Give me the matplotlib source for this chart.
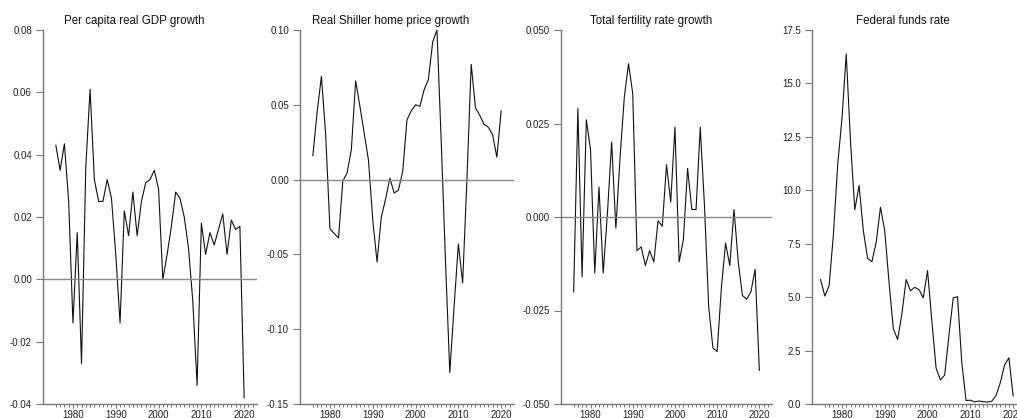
import numpy as np
import matplotlib.pyplot as plt
from matplotlib.ticker import MultipleLocator, FormatStrFormatter

plt.rcParams.update({
    "font.family": ["Liberation Sans", "DejaVu Sans"],
    "axes.edgecolor": "#777777",
    "xtick.color": "#777777", "ytick.color": "#777777",
    "xtick.labelcolor": "#222222", "ytick.labelcolor": "#222222",
})

years = list(range(1976, 2021))
years_ffr = list(range(1975, 2021))

gdp_growth = [0.043, 0.035, 0.0435, 0.025, -0.014, 0.015, -0.027, 0.036, 0.061, 0.032,
              0.025, 0.025, 0.032, 0.026, 0.008, -0.014, 0.022, 0.014, 0.028, 0.014,
              0.025, 0.031, 0.032, 0.035, 0.029, 0.000, 0.008, 0.017, 0.028, 0.026,
              0.020, 0.010, -0.007, -0.034, 0.018, 0.008, 0.015, 0.011, 0.016, 0.021,
              0.008, 0.019, 0.016, 0.017, -0.038]

home_price_growth = [0.016, 0.045, 0.069, 0.030, -0.033, -0.036, -0.039, -0.001, 0.0045, 0.020,
                     0.066, 0.049, 0.031, 0.013, -0.027, -0.055, -0.025, -0.013, 0.001, -0.009,
                     -0.007, 0.0056, 0.040, 0.046, 0.050, 0.049, 0.060, 0.067, 0.092, 0.100,
                     0.025, -0.055, -0.129, -0.085, -0.043, -0.069, 0.000, 0.077, 0.048, 0.043,
                     0.037, 0.035, 0.030, 0.015, 0.046]

tfr_growth = [-0.020, 0.029, -0.016, 0.026, 0.018, -0.015, 0.008, -0.015, 0.001, 0.020,
              -0.003, 0.016, 0.032, 0.041, 0.033, -0.009, -0.008, -0.013, -0.009, -0.012,
              -0.001, -0.0025, 0.014, 0.004, 0.024, -0.012, -0.006, 0.013, 0.002, 0.002,
              0.024, 0.003, -0.024, -0.035, -0.036, -0.019, -0.007, -0.013, 0.002, -0.012,
              -0.021, -0.022, -0.020, -0.014, -0.041]

fed_funds = [5.82, 5.05, 5.54, 7.93, 11.19, 13.36, 16.38, 12.26, 9.09, 10.23,
             8.10, 6.81, 6.66, 7.57, 9.21, 8.10, 5.69, 3.52, 3.02, 4.21,
             5.83, 5.30, 5.46, 5.35, 4.97, 6.24, 3.88, 1.67, 1.13, 1.35,
             3.22, 4.97, 5.02, 1.92, 0.16, 0.18, 0.10, 0.14, 0.11, 0.09,
             0.13, 0.40, 1.00, 1.83, 2.16, 0.38]

panels = [
    ("Per capita real GDP growth", years, gdp_growth, (-0.04, 0.08), 0.02, "%.2f", True),
    ("Real Shiller home price growth", years, home_price_growth, (-0.15, 0.10), 0.05, "%.2f", True),
    ("Total fertility rate growth", years, tfr_growth, (-0.05, 0.05), 0.025, "%.3f", True),
    ("Federal funds rate", years_ffr, fed_funds, (0.0, 17.5), 2.5, "%.1f", False),
]

W, H = 1017, 418
lefts = [43, 300, 561, 812]
widths = [214, 214, 211, 214]
top, bottom = 30, 404

fig = plt.figure(figsize=(W / 100, H / 100), dpi=100)
for (title, x, y, ylim, step, fmt, zero), l, w in zip(panels, lefts, widths):
    ax = fig.add_axes([l / W, (H - bottom) / H, w / W, (bottom - top) / H])
    ax.plot(x, y, color="#111111", lw=0.8)
    if zero:
        ax.axhline(0, color="#888888", lw=1.0)
    ax.set_ylim(*ylim)
    ax.set_xlim(1973, 2023)
    ax.yaxis.set_major_locator(MultipleLocator(step))
    ax.yaxis.set_major_formatter(FormatStrFormatter(fmt))
    ax.set_xticks([1980, 1990, 2000, 2010, 2020])
    ax.set_xticks(np.arange(1976, 2023), minor=True)
    ax.tick_params(axis="y", labelsize=7, length=5, width=0.8, pad=3)
    ax.tick_params(axis="x", which="major", labelsize=7, length=3, width=0.8, pad=1)
    ax.tick_params(axis="x", which="minor", length=1.8, width=0.7)
    for s in ["top", "right"]:
        ax.spines[s].set_visible(False)
    for s in ["left", "bottom"]:
        ax.spines[s].set_linewidth(1.0)
    ax.set_title(title, fontsize=8.3, x=0.425, pad=4, color="#111111")

fig.savefig("out.png", dpi=100)
